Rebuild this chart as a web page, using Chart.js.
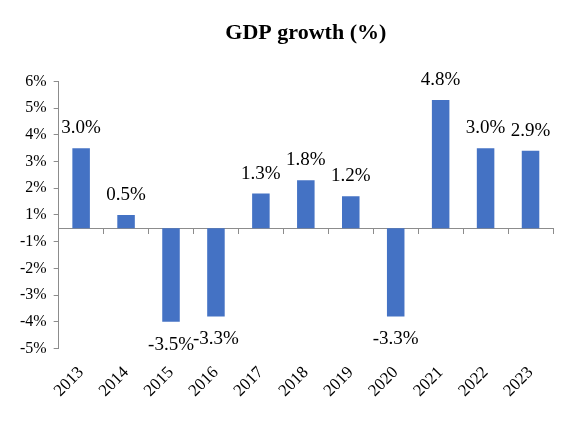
<!DOCTYPE html>
<html>
<head>
<meta charset="utf-8">
<script src="https://cdn.jsdelivr.net/npm/chart.js@4/dist/chart.umd.min.js"></script>
<style>
  html, body { margin: 0; padding: 0; background: #fff; }
  #wrap { width: 578px; height: 423px; }
</style>
</head>
<body>
<div id="wrap"><canvas id="gdpChart"></canvas></div>
<script>
// Chart data
const years = ['2013', '2014', '2015', '2016', '2017', '2018', '2019', '2020', '2021', '2022', '2023'];
const growth = [3.0, 0.5, -3.5, -3.3, 1.3, 1.8, 1.2, -3.3, 4.8, 3.0, 2.9];
// the original axis puts its ticks half a point off zero
const tickValues = [-4.5, -3.5, -2.5, -1.5, -0.5, 0.5, 1.5, 2.5, 3.5, 4.5, 5.5];
const tickLabels = ['-5%', '-4%', '-3%', '-2%', '-1%', '1%', '2%', '3%', '4%', '5%', '6%'];

const serif = '"Times New Roman", "Liberation Serif", serif';
Chart.defaults.font.family = serif;
Chart.defaults.color = '#000';

const axisGrey = '#8c8c8c';

// value labels above / below each bar
const barLabels = {
    id: 'barLabels',
    afterDatasetsDraw(chart) {
        const ctx = chart.ctx;
        const meta = chart.getDatasetMeta(0);
        ctx.save();
        ctx.font = '19px ' + serif;
        ctx.fillStyle = '#000';
        ctx.textAlign = 'center';
        ctx.textBaseline = 'middle';
        meta.data.forEach((bar, i) => {
            const v = growth[i];
            const y = v >= 0 ? bar.y - 20 : bar.y + 23;
            ctx.fillText(v.toFixed(1) + '%', bar.x, y);
        });
        ctx.restore();
    }
};

new Chart(document.getElementById('gdpChart'), {
    type: 'bar',
    data: {
        labels: years,
        datasets: [{
            data: growth,
            backgroundColor: '#4472C4',
            barPercentage: 0.39,
            categoryPercentage: 1
        }]
    },
    options: {
        responsive: true,
        maintainAspectRatio: false,
        animation: false,
        layout: {
            padding: { top: 20, left: 13, right: 25, bottom: 16 }
        },
        plugins: {
            legend: { display: false },
            tooltip: { enabled: false },
            title: {
                display: true,
                text: 'GDP growth (%)',
                fullSize: false,
                color: '#000',
                font: { size: 22, weight: 'bold' },
                padding: { top: 0, bottom: 35 }
            }
        },
        scales: {
            x: {
                position: 'bottom',
                grid: { display: false },
                border: { display: false },
                ticks: {
                    minRotation: 45,
                    maxRotation: 45,
                    padding: 6,
                    font: { size: 17 }
                }
            },
            // axis line sitting at zero, with tick marks between categories
            xZero: {
                type: 'category',
                axis: 'x',
                position: { y: 0 },
                offset: true,
                ticks: { display: false },
                grid: {
                    offset: true,
                    drawOnChartArea: false,
                    tickLength: 5,
                    color: axisGrey
                },
                border: { display: true, color: axisGrey }
            },
            y: {
                min: -4.5,
                max: 5.5,
                afterBuildTicks: (scale) => {
                    scale.ticks = tickValues.map(v => ({ value: v }));
                },
                ticks: {
                    callback: (value, index) => tickLabels[index],
                    font: { size: 16 },
                    padding: 7
                },
                grid: {
                    drawOnChartArea: false,
                    tickLength: 5,
                    color: axisGrey
                },
                border: { display: true, color: axisGrey }
            }
        }
    },
    plugins: [barLabels]
});
</script>
</body>
</html>
